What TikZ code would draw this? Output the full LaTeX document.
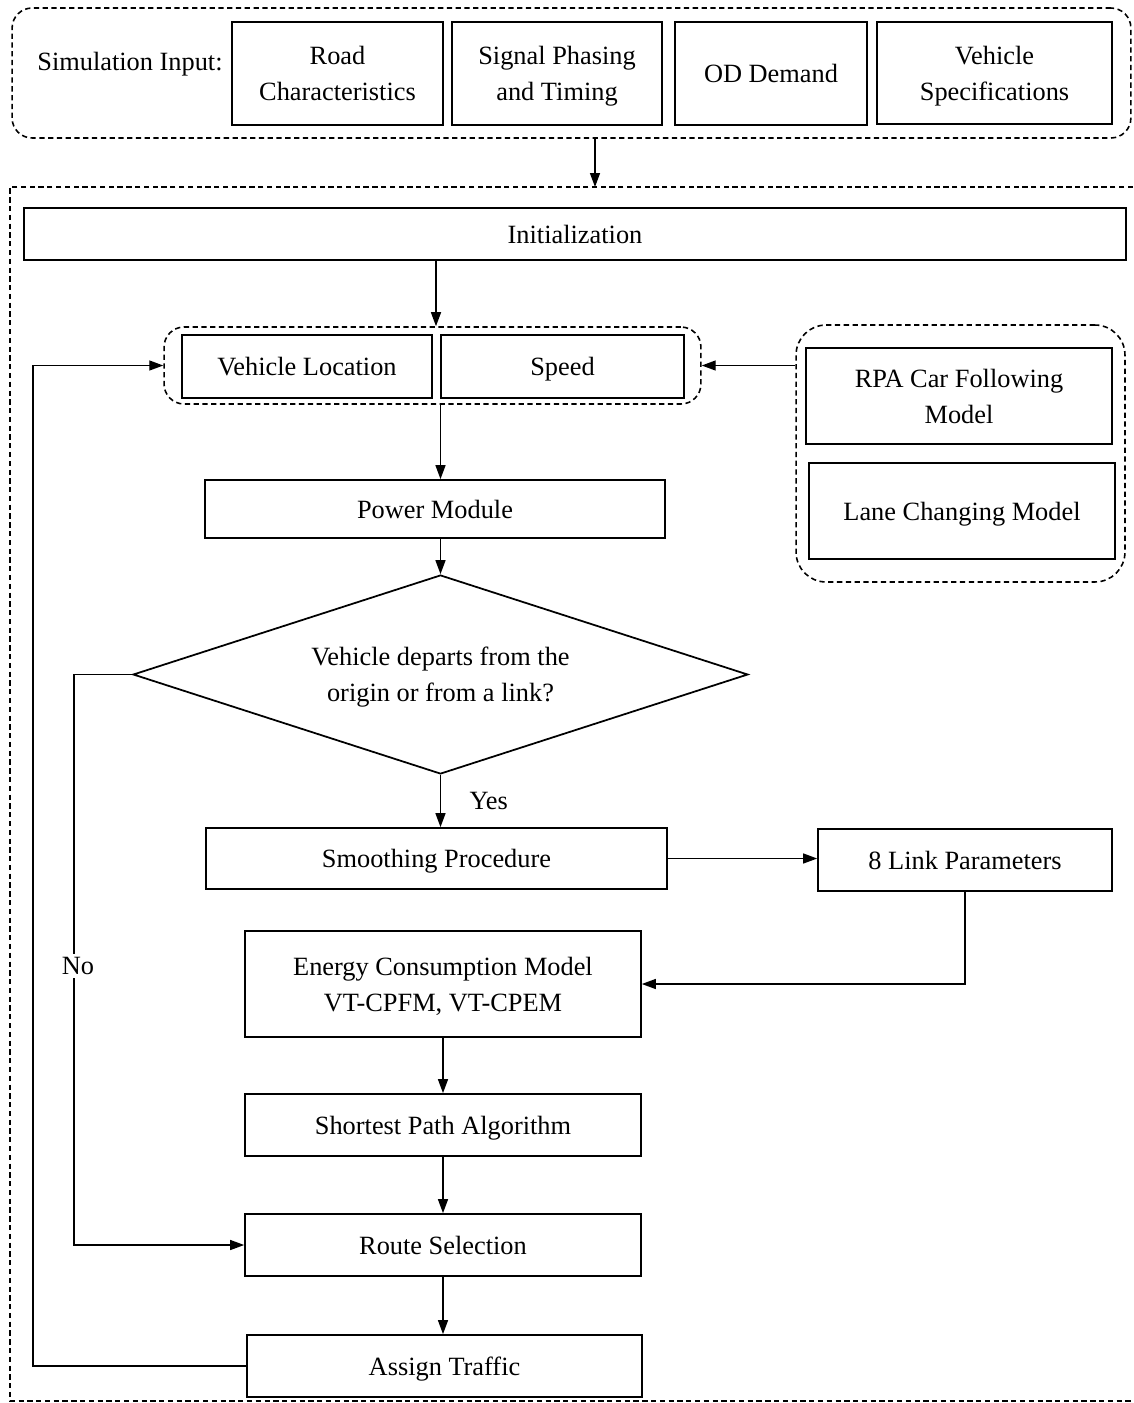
\documentclass[tikz,border=0pt]{standalone}
\usepackage{fontspec}
\setmainfont{Liberation Serif}
\usetikzlibrary{arrows.meta,shapes.geometric}
\begin{document}
\begin{tikzpicture}[x=0.02cm, y=-0.02cm,
	font=\fontsize{15}{20.5}\selectfont,
	procbox/.style={draw=black, line width=1pt, align=center, inner sep=0pt, text depth=0pt},
	groupbox/.style={draw=black, line width=0.9pt, dash pattern=on 3pt off 2pt, rounded corners=0.4cm},
	decision/.style={draw=black, line width=1pt, shape=diamond, aspect=3.09, inner sep=0pt, align=center, text depth=0pt},
	arr/.style={draw=black, line width=0.8pt, -{Triangle[length=0.28cm, width=0.2cm]}},
	]
		\useasboundingbox (0,0) rectangle (1133,1403);
		% simulation input
		\node[groupbox, minimum width=22.38cm, minimum height=2.6cm] (inputs) at (571.5,73) {};
		\node (simin) at (130,64) {Simulation Input:};
		\node[procbox, minimum width=4.22cm, minimum height=2.06cm] (road) at (337.5,73.5) {Road\\Characteristics};
		\node[procbox, minimum width=4.2cm, minimum height=2.06cm] (signal) at (557,73.5) {Signal Phasing\\and Timing};
		\node[procbox, minimum width=3.84cm, minimum height=2.06cm] (od) at (771,73.5) {OD Demand};
		\node[procbox, minimum width=4.7cm, minimum height=2.04cm] (spec) at (994.5,73) {Vehicle\\Specifications};
		% main loop
		\draw[black, line width=0.9pt, dash pattern=on 3pt off 2pt] (1133,187) -- (10,187) -- (10,1401) -- (1133,1401);
		\coordinate (maintop) at (595,187);
		\draw[arr] (inputs.south -| maintop) -- (maintop);
		\node[procbox, minimum width=22.04cm, minimum height=1.04cm] (init) at (575,234) {Initialization};
		\node[groupbox, minimum width=10.74cm, minimum height=1.54cm] (state) at (432.5,365.5) {};
		\node[procbox, minimum width=5cm, minimum height=1.26cm] (loc) at (307,366.5) {Vehicle Location};
		\node[procbox, minimum width=4.86cm, minimum height=1.26cm] (speed) at (562.5,366.5) {Speed};
		\node[groupbox, rounded corners=0.6cm, minimum width=6.58cm, minimum height=5.14cm] (models) at (960.5,453.5) {};
		\node[procbox, minimum width=6.12cm, minimum height=1.92cm] (rpa) at (959,396) {RPA Car Following\\Model};
		\node[procbox, minimum width=6.12cm, minimum height=1.92cm] (lane) at (962,511) {Lane Changing Model};
		\node[procbox, minimum width=9.2cm, minimum height=1.16cm] (power) at (435,509) {Power Module};
		\node[decision, minimum width=12.3cm, minimum height=3.98cm] (depart) at (440.5,674.5) {Vehicle departs from the\\origin or from a link?};
		\node[procbox, minimum width=9.22cm, minimum height=1.22cm] (smooth) at (436.5,858.5) {Smoothing Procedure};
		\node[procbox, minimum width=5.88cm, minimum height=1.24cm] (linkpar) at (965,860) {8 Link Parameters};
		\node[procbox, minimum width=7.92cm, minimum height=2.12cm] (energy) at (443,984) {Energy Consumption Model\\VT-CPFM, VT-CPEM};
		\node[procbox, minimum width=7.92cm, minimum height=1.24cm] (shortest) at (443,1125) {Shortest Path Algorithm};
		\node[procbox, minimum width=7.92cm, minimum height=1.24cm] (route) at (443,1245) {Route Selection};
		\node[procbox, minimum width=7.9cm, minimum height=1.24cm] (assign) at (444.5,1366) {Assign Traffic};
		% connectors
		\draw[arr] (init.south -| 436,0) -- (state.north -| 436,0);
		\draw[arr] (models.west |- state.east) -- (state.east);
		\draw[arr] (state.south -| depart.north) -- (power.north -| depart.north);
		\draw[arr] (power.south -| depart.north) -- (depart.north);
		\draw[arr] (depart.south) -- (depart.south |- smooth.north) node[midway, right=0.45cm] (yes) {Yes};
		\draw[arr] (smooth.east) -- (smooth.east -| linkpar.west);
		\draw[arr] (linkpar.south) |- (energy.east);
		\draw[arr] (energy.south) -- (shortest.north);
		\draw[arr] (shortest.south) -- (route.north);
		\draw[arr] (route.south) -- (route.south |- assign.north);
		\draw[arr] (depart.west) -- ++(-58,0) |- (route.west);
		\node[fill=white, inner sep=2pt] (no) at (78,966) {No};
		\draw[arr] (assign.west) -- ++(-213,0) |- (state.west);
\end{tikzpicture}
\end{document}
